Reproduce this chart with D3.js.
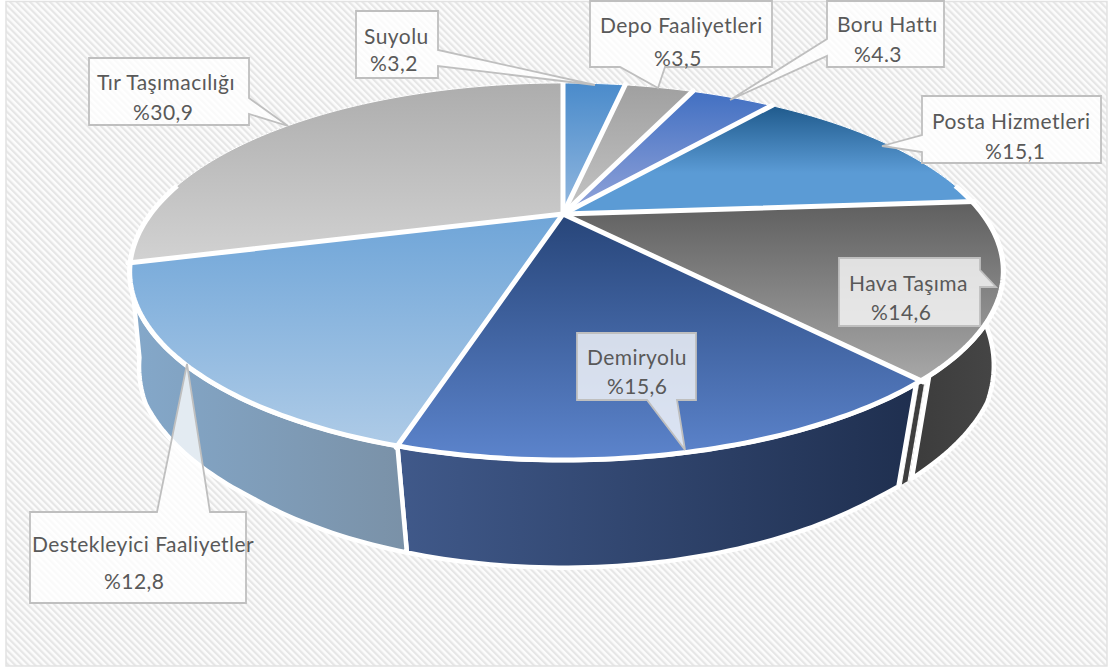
<!DOCTYPE html>
<html><head><meta charset="utf-8">
<script src="https://cdn.jsdelivr.net/npm/d3@7/dist/d3.min.js"></script>
<style>html,body{margin:0;padding:0;background:#fff}svg{display:block}</style>
</head><body><div id="c"></div>
<script>
// Data: categories in clockwise drawing order from 12 o'clock
const categories = ["Suyolu","Depo Faaliyetleri","Boru Hattı","Posta Hizmetleri","Hava Taşıma","Demiryolu","Destekleyici Faaliyetler","Tır Taşımacılığı"];
// Printed percentages
const printedValues = ["%3,2","%3,5","%4.3","%15,1","%14,6","%15,6","%12,8","%30,9"];
// Slice shares (the printed labels differ from the wedges)
const sliceShares = [3.1,3.4,4.1,13.2,14.7,16.0,16.2,29.2];

const W=1109,H=669;
const svg=d3.select("#c").append("svg").attr("width",W).attr("height",H);
const defs=svg.append("defs");

// hatch background
const pat=defs.append("pattern").attr("id","hatch").attr("patternUnits","userSpaceOnUse")
  .attr("width",4.7).attr("height",4.7).attr("patternTransform","rotate(-45)");
pat.append("rect").attr("width",4.7).attr("height",4.7).attr("fill","#fcfcfc");
pat.append("rect").attr("width",2.2).attr("height",4.7).attr("fill","#e6e6e6");
svg.append("rect").attr("x",6).attr("y",1.5).attr("width",1101).attr("height",664.5)
  .attr("fill","url(#hatch)").attr("stroke","#e2e2e2").attr("stroke-width",1.5);

// Perspective projection of a disc; theta clockwise from top, h=0 top face, h=1 bottom face
const P={cx:563,cy:214,a:416,b:3.5,k:171,p:0.305,m:90};
function proj(theta,r,h){
  const u=r*Math.sin(theta), v=-r*Math.cos(theta);
  const q=h*(0.02+0.023*Math.min(1,Math.max(0,(v-0.45)/0.35)));
  const w=1-P.p*v+q;
  return [P.cx+(P.a+P.b*u)*u/w, P.cy+(P.k*v+P.m*h)/w];
}
const line=d3.line();
const deg=Math.PI/180;
const arcs=d3.pie().sort(null).startAngle(0).endAngle(2*Math.PI)(sliceShares);
const steps=(s,e)=>{const n=Math.max(4,Math.ceil((e-s)/deg));return d3.range(n+1).map(i=>s+(e-s)*i/n);};

const faceColors=[["#4a8bcb","#93b8df"],["#a0a0a0","#c4c4c4"],["#4270c2","#93a4da"],["#1f5a8c","#5b9bd5"],
  ["#5f5f5f","#a8a8a8"],["#274579","#5c84cc"],["#6fa5d8","#aecbe7"],["#adadad","#d2d2d2"]];
const wallColors=[["#4a8bcb","#4a8bcb"],["#888","#888"],["#3a5fa8","#3a5fa8"],["#1f5a8c","#1f5a8c"],
  ["#3c3c3c","#464646"],["#40598a","#1f2f4f"],["#84a8ca","#7a91a7"],["#999","#999"]];

faceColors.forEach((c,i)=>{
  const g=defs.append("linearGradient").attr("id","f"+i).attr("x1",0).attr("y1",0).attr("x2",0).attr("y2",1);
  g.append("stop").attr("offset","0%").attr("stop-color",c[0]);
  if(i==3) g.append("stop").attr("offset","62%").attr("stop-color",c[1]);
  g.append("stop").attr("offset","100%").attr("stop-color",c[1]);
  const w=defs.append("linearGradient").attr("id","w"+i).attr("x1",0).attr("y1",0).attr("x2",1).attr("y2",0);
  w.append("stop").attr("offset","0%").attr("stop-color",wallColors[i][0]);
  w.append("stop").attr("offset","100%").attr("stop-color",wallColors[i][1]);
});

// walls
const wallG=svg.append("g");
function wall(s,e,fill,sw){
  const ts=steps(s,e);
  const pts=ts.map(t=>proj(t,1,0)).concat(ts.slice().reverse().map(t=>proj(t,1,1)));
  wallG.append("path").attr("d",line(pts)+"Z").attr("fill",fill)
    .attr("stroke",sw?"#fff":"none").attr("stroke-width",sw).attr("stroke-linejoin","round");
}
[0,1,2,3,7].forEach(i=>wall(arcs[i].startAngle,arcs[i].endAngle,`url(#w${i})`,0));
// the Hava/Demiryolu joint shows a thin dark cut face between two white seams
wall(arcs[4].startAngle,137.2*deg,"url(#w4)",4.5);
wall(139.6*deg,arcs[5].endAngle,"url(#w5)",4.5);
wall(138*deg,139*deg,"#3e3e3e",0);
wall(arcs[6].startAngle,arcs[6].endAngle,"url(#w6)",4.5);

// top faces, front rim, radial seams
const faceG=svg.append("g");
arcs.forEach((d,i)=>{
  const pts=[proj(0,0,0)].concat(steps(d.startAngle,d.endAngle).map(t=>proj(t,1,0)));
  faceG.append("path").attr("d",line(pts)+"Z").attr("fill",`url(#f${i})`);
});
faceG.append("path").attr("d",line(steps(80*deg,280*deg).map(t=>proj(t,1,0))))
  .attr("fill","none").attr("stroke","#fff").attr("stroke-width",5);
faceG.append("path").attr("d",line(steps(0,2*Math.PI).map(t=>proj(t,1,0))))
  .attr("fill","none").attr("stroke","#fff").attr("stroke-width",1);
arcs.forEach(d=>{
  faceG.append("path").attr("d",line([proj(0,0,0),proj(d.startAngle,1.005,0)]))
    .attr("fill","none").attr("stroke","#fff").attr("stroke-width",5).attr("stroke-linecap","round");
});

// callouts (annotation layout, drawn over the pie): box, pointer, text lines
const callouts=[
 {i:0,box:[356,11,438,78],ptr:[[438,50],[595,85],[438,66]],side:"r",t:[[364,44],[370,71]]},
 {i:1,box:[590,1,772,67],ptr:[[620,67],[658,88],[665,67]],side:"b",t:[[600,33],[654,66]]},
 {i:2,box:[827,1,944,67],ptr:[[827,39],[730,100],[827,56]],side:"l",t:[[837,32],[854,62]]},
 {i:3,box:[922,96,1101,163],ptr:[[922,135],[882,146],[922,152]],side:"l",t:[[932,129],[985,159]]},
 {i:4,box:[839,258,980,326],ptr:[[980,270],[996,287],[980,287]],side:"r",t:[[849,291],[871,320]]},
 {i:5,box:[577,333,696,400],ptr:[[647,400],[685,450],[677,400]],side:"b",t:[[587,365],[607,394]]},
 {i:6,box:[30,512,246,603],ptr:[[157,512],[187,364],[210,512]],side:"t",t:[[32,552],[104,589]]},
 {i:7,box:[89,58,249,125],ptr:[[249,98],[288,126],[249,114]],side:"r",t:[[97,90],[133,120]]}
];
const cg=svg.append("g");
function outline(c){
  const [x0,y0,x1,y1]=c.box,p=c.ptr;
  const corners={
    t:[[x0,y0],...p,[x1,y0],[x1,y1],[x0,y1]],
    r:[[x0,y0],[x1,y0],...p,[x1,y1],[x0,y1]],
    b:[[x0,y0],[x1,y0],[x1,y1],...p.slice().reverse(),[x0,y1]],
    l:[[x0,y0],[x1,y0],[x1,y1],[x0,y1],...p.slice().reverse()]
  };
  return corners[c.side];
}
callouts.forEach(c=>{
  cg.append("path").attr("d",line(outline(c))+"Z").attr("fill","#fff").attr("fill-opacity",0.78)
    .attr("stroke","#bfbfbf").attr("stroke-width",1.8).attr("stroke-linejoin","miter");
  [categories[c.i],printedValues[c.i]].forEach((s,j)=>{
    cg.append("text").attr("x",c.t[j][0]).attr("y",c.t[j][1]).text(s)
      .attr("font-family","Lato, 'Open Sans', sans-serif").attr("font-size",21)
      .attr("letter-spacing",0.45).attr("fill","#595959");
  });
});
</script></body></html>
